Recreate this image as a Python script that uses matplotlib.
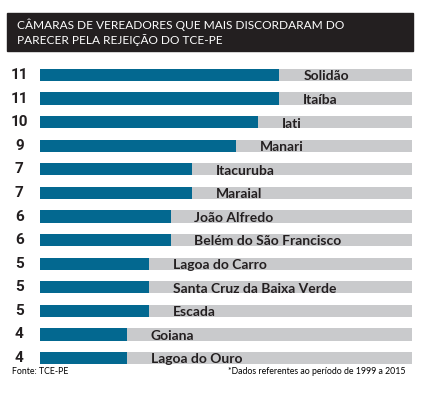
import matplotlib.pyplot as plt
from matplotlib.patches import Rectangle

# dados
cidades = ["Solidão", "Itaíba", "Iati", "Manari", "Itacuruba", "Maraial",
           "João Alfredo", "Belém do São Francisco", "Lagoa do Carro",
           "Santa Cruz da Baixa Verde", "Escada", "Goiana", "Lagoa do Ouro"]
valores = [11, 11, 10, 9, 7, 7, 6, 6, 5, 5, 5, 4, 4]
escala_max = 17.1

titulo = "CÂMARAS DE VEREADORES QUE MAIS DISCORDARAM DO\nPARECER PELA REJEIÇÃO DO TCE-PE"
fonte = "Fonte: TCE-PE"
nota = "*Dados referentes ao período de 1999 a 2015"

azul = "#036890"
cinza = "#c9cacc"

W, H = 425, 393
fig = plt.figure(figsize=(W / 100, H / 100), dpi=100)
fig.patch.set_facecolor("white")

# caixa do titulo
fig.patches.append(Rectangle((7 / W, 1 - 51 / H), 406 / W, 38 / H,
                             transform=fig.transFigure, color="#231f20", zorder=0))
fig.text(17 / W, 1 - 32 / H, titulo, color="white", fontsize=8.6, family="Lato",
         va="center", ha="left", linespacing=1.3)

# eixos: linhas de 75 a 358 px
passo = (358 - 75) / 12
topo = 75 - passo / 2
base = 358 + passo / 2
ax = fig.add_axes([40 / W, 1 - base / H, 372 / W, (base - topo) / H])
n = len(cidades)
y = list(range(n))
ax.barh(y, [escala_max] * n, height=0.52, color=cinza)
ax.barh(y, valores, height=0.52, color=azul)
ax.set_xlim(0, escala_max)
ax.set_ylim(n - 0.5, -0.5)
ax.axis("off")

for i, (c, v) in enumerate(zip(cidades, valores)):
    ax.text(v + 1.1, i + 0.06, c, va="center", ha="left", fontsize=10,
            family="Lato", fontweight="bold", color="#231f20")
    ax.text(-0.95, i, str(v), va="center", ha="center", fontsize=11,
            family="Roboto", fontweight="bold", color="#231f20")

fig.text(12 / W, 1 - 372 / H, fonte, fontsize=6.3, family="Lato", va="center", ha="left")
fig.text(405 / W, 1 - 372 / H, nota, fontsize=6.3, family="Lato", va="center", ha="right")

fig.savefig("out.png", dpi=100)
